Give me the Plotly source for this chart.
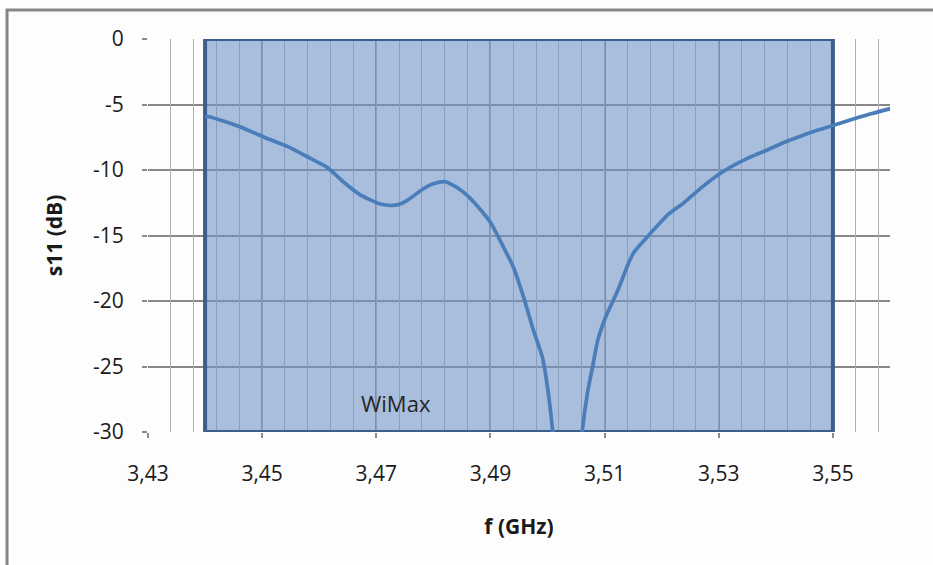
import plotly.graph_objects as go

# Measured reflection coefficient of the antenna
freq_ghz = [3.4400, 3.4409, 3.4461, 3.4509, 3.4544, 3.4584, 3.4614, 3.4642, 3.4672,
            3.4707, 3.4730, 3.4747, 3.4763, 3.4782, 3.4800, 3.4821, 3.4847, 3.4870,
            3.4900, 3.4923, 3.4940, 3.4958, 3.4975, 3.4991, 3.5000, 3.5009, 3.5030,
            3.5045, 3.5061, 3.5070, 3.5079, 3.5088, 3.5102, 3.5123, 3.5142, 3.5151,
            3.5181, 3.5211, 3.5239, 3.5268, 3.5298, 3.5326, 3.5356, 3.5386, 3.5414,
            3.5444, 3.5474, 3.5500, 3.5544, 3.5567, 3.5602]
s11_db = [-5.9, -5.95, -6.7, -7.6, -8.2, -9.1, -9.8, -10.9, -11.9,
          -12.6, -12.7, -12.5, -12.05, -11.45, -11.05, -10.9, -11.5, -12.4,
          -14.0, -15.9, -17.4, -19.7, -22.2, -24.3, -26.6, -29.9, -40.0,
          -40.0, -29.9, -27.0, -25.0, -23.0, -21.2, -19.2, -17.1, -16.3,
          -14.8, -13.4, -12.5, -11.4, -10.4, -9.65, -9.0, -8.45, -7.9,
          -7.4, -6.95, -6.6, -6.0, -5.7, -5.3]

# WiMax band highlighted on the chart
band_start, band_stop = 3.44, 3.55
band_label = "WiMax"

y_tick_vals = [0, -5, -10, -15, -20, -25, -30]
y_tick_text = ["0", "-5", "-10", "-15", "-20", "-25", "-30"]

FONT = "Open Sans"
X_RANGE = [3.43, 3.56]

fig = go.Figure()

# Placeholder on the secondary x axis that carries the minor gridlines
fig.add_trace(go.Scatter(x=[X_RANGE[0]], y=[None], xaxis="x2", yaxis="y",
                         mode="lines", showlegend=False, hoverinfo="skip"))

fig.add_trace(go.Scatter(
    x=freq_ghz, y=s11_db, mode="lines",
    line=dict(color="#4a7ebb", width=3.7, shape="spline", smoothing=0.6),
    showlegend=False, hoverinfo="x+y",
))

# Band rectangle (translucent so the gridlines show through)
fig.add_shape(type="rect", xref="x", yref="y",
              x0=band_start, x1=band_stop, y0=-30, y1=0,
              fillcolor="rgba(112,148,198,0.6)",
              line=dict(color="#3b5e8c", width=4), layer="between")

fig.add_annotation(x=3.4734, y=-27.8, xref="x", yref="y", text=band_label,
                   showarrow=False, font=dict(family=FONT, size=22, color="#262626"))

# Outer chart frame
fig.add_shape(type="rect", xref="paper", yref="paper",
              x0=-0.190, x1=1.3, y0=-0.60, y1=1.074,
              line=dict(color="#878787", width=3), fillcolor="rgba(0,0,0,0)",
              layer="above")

fig.update_layout(
    width=933, height=565,
    margin=dict(l=148, r=43, t=39, b=133),
    paper_bgcolor="#fdfdfd", plot_bgcolor="#fdfdfd",
    separators=",.",
    font=dict(family=FONT, size=21, color="#1a1a1a"),
    xaxis=dict(
        range=X_RANGE, tickmode="linear", tick0=3.43, dtick=0.02,
        tickformat=".2f",
        showgrid=True, gridcolor="#8a8a8a", gridwidth=1.5,
        ticks="outside", ticklen=5, tickcolor="#8a8a8a", tickwidth=1.5,
        ticklabelstandoff=18,
        zeroline=False, showline=False,
        title=dict(text="<b>f (GHz)</b>", font=dict(family=FONT, size=21), standoff=33),
    ),
    xaxis2=dict(
        range=X_RANGE, overlaying="x", side="bottom",
        tickmode="linear", tick0=3.43, dtick=0.004,
        showgrid=True, gridcolor="#b0b0b0", gridwidth=1.2,
        showticklabels=False, ticks="", zeroline=False, showline=False,
    ),
    yaxis=dict(
        range=[-30, 0], tickvals=y_tick_vals, ticktext=y_tick_text,
        showgrid=True, gridcolor="#888888", gridwidth=1.5,
        ticks="outside", ticklen=5, tickcolor="#8a8a8a", tickwidth=1.5,
        ticklabelstandoff=14,
        zeroline=False, showline=False,
        title=dict(text="<b>s11 (dB)</b>", font=dict(family=FONT, size=21), standoff=24),
    ),
)

fig.write_html("out.html")
